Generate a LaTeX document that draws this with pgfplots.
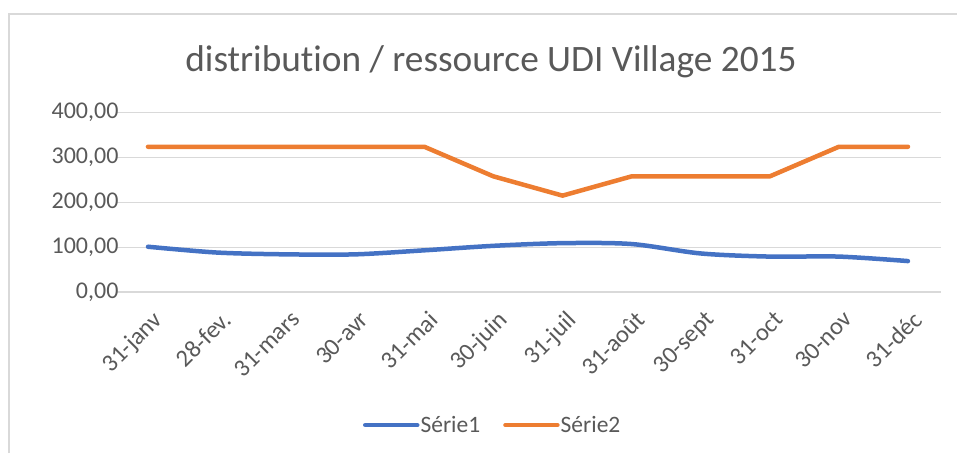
\documentclass[border=0pt]{standalone}
\usepackage{pgfplots}
\pgfplotsset{compat=1.18}
\usepackage{fontspec}
\setmainfont{Carlito}[Ligatures={NoCommon}]
\definecolor{txtgray}{HTML}{595959}
\definecolor{gridgray}{HTML}{D9D9D9}
\definecolor{s1}{HTML}{4472C4}
\definecolor{s2}{HTML}{ED7D31}
\begin{document}
\begin{tikzpicture}
\path[use as bounding box] (0,0) rectangle (957pt,453pt);
\draw[gridgray, line width=2.5pt] (9pt,0pt) -- (9pt,439pt) -- (957pt,439pt);
\node[txtgray, font=\fontsize{37.3}{42}\selectfont] at (491pt,391pt) {distribution / ressource UDI Village 2015};
\begin{axis}[
  at={(116pt,161pt)}, anchor=south west,
  scale only axis, width=825pt, height=179.3pt,
  xmin=-0.463, xmax=11.478, ymin=0, ymax=400,
  axis line style={draw=none},
  major tick length=0pt,
  ytick={0,100,200,300,400},
  ymajorgrids, grid style={gridgray, line width=1.3pt},
  xtick={0,...,11},
  xticklabels={31-janv,28-fev.,31-mars,30-avr,31-mai,30-juin,31-juil,31-août,30-sept,31-oct,30-nov,31-déc},
  x tick label style={rotate=45, anchor=north east, font=\fontsize{24.5}{28}\selectfont, text=txtgray, inner sep=1pt, xshift=-9pt, yshift=-13.8pt},
  y tick label style={font=\fontsize{24}{28}\selectfont, text=txtgray, xshift=6pt},
  yticklabel={\pgfmathprintnumber[fixed, fixed zerofill, precision=2, use comma, assume math mode=true]{\tick}},
  xtick pos=bottom,
  legend style={at={(0.456,-0.742)}, anchor=center, draw=none, fill=none, legend columns=2, font=\fontsize{23.5}{26}\selectfont, text=txtgray, inner sep=0pt, nodes={inner sep=1pt}, /tikz/every even column/.append style={column sep=22pt}},
  legend image code/.code={\draw[#1, line width=4.5pt, line cap=round] (2pt,0pt) -- (54pt,0pt);},
]
\addplot[s1, line width=4.5pt, line cap=round, smooth, tension=0.5] coordinates {
(0,101) (1,88) (2,84) (3,84) (4,93) (5,103) (6,109) (7,107) (8,86) (9,79) (10,79) (11,69)};
\addlegendentry{Série1}
\addplot[s2, line width=4.5pt, line join=round, line cap=round] coordinates {
(0,324) (1,324) (2,324) (3,324) (4,324) (5,258) (6,215) (7,258) (8,258) (9,258) (10,324) (11,324)};
\addlegendentry{Série2}
\end{axis}
\end{tikzpicture}
\end{document}
